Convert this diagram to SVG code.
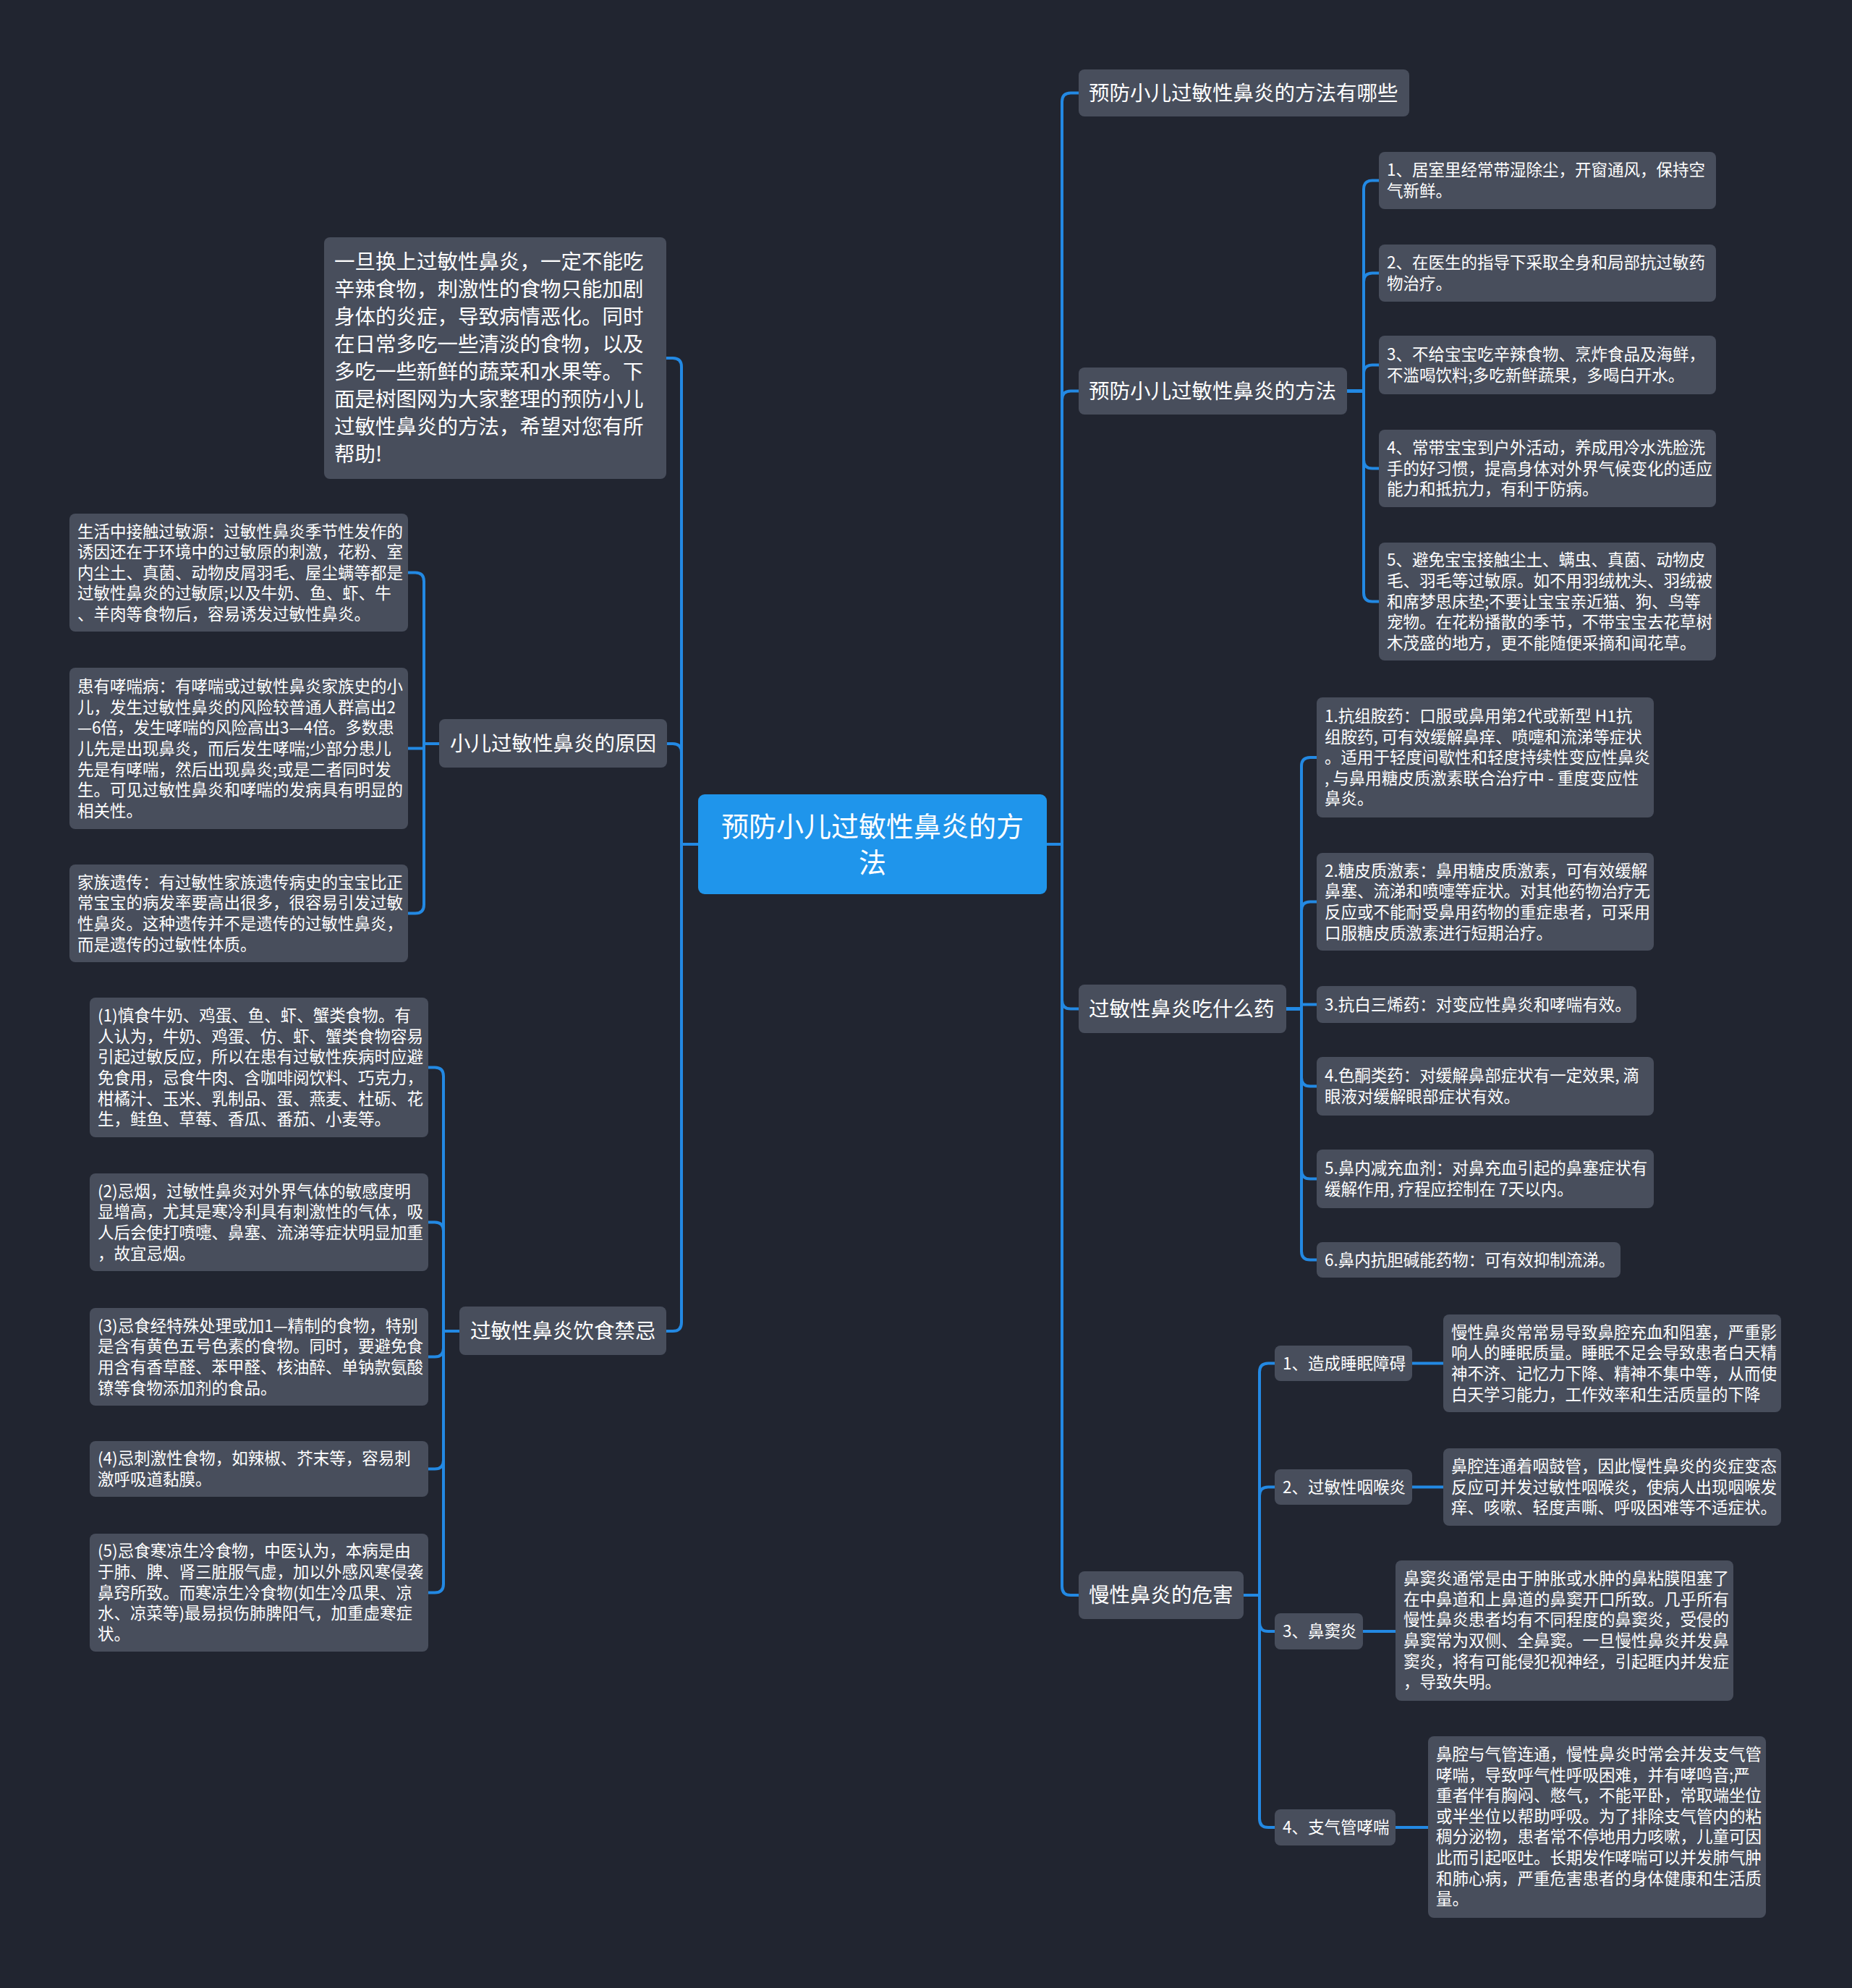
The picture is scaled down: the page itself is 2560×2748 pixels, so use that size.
<svg xmlns="http://www.w3.org/2000/svg" width="2560" height="2748" viewBox="0 0 2560 2748">
<style>
.bg{fill:#212530}
.box{fill:#484e5c}
.root{fill:#1f95eb}
.c path{fill:none;stroke:#2389e3;stroke-width:4;stroke-linejoin:round;stroke-linecap:round}
text{font-family:"Noto Sans CJK SC","Noto Sans",sans-serif;fill:#ffffff}
.s{font-size:22.5px}
.m{font-size:28.5px}
.l{font-size:38px}
</style>
<rect class="bg" x="0" y="0" width="2560" height="2748"/>
<g class="c" id="connectors">
<path d="M1447 1167H1468V140.5Q1468 128.5 1480 128.5H1491"/>
<path d="M1447 1167H1468V552.5Q1468 540.5 1480 540.5H1491"/>
<path d="M1447 1167H1468V1382.5Q1468 1394.5 1480 1394.5H1491"/>
<path d="M1447 1167H1468V2193Q1468 2205 1480 2205H1491"/>
<path d="M965 1167H942V507Q942 495 930 495H921"/>
<path d="M965 1167H942V1040Q942 1028 930 1028H921"/>
<path d="M965 1167H942V1828Q942 1840 930 1840H921"/>
<path d="M607 1028H586V803.5Q586 791.5 574 791.5H564"/>
<path d="M607 1028H586V1034.5H564"/>
<path d="M607 1028H586V1250.5Q586 1262.5 574 1262.5H564"/>
<path d="M635 1840H613V1487.5Q613 1475.5 601 1475.5H592"/>
<path d="M635 1840H613V1701.5Q613 1689.5 601 1689.5H592"/>
<path d="M635 1840H613V1863.5Q613 1875.5 601 1875.5H592"/>
<path d="M635 1840H613V2018.5Q613 2030.5 601 2030.5H592"/>
<path d="M635 1840H613V2189.5Q613 2201.5 601 2201.5H592"/>
<path d="M1862 540.5H1885V261.5Q1885 249.5 1897 249.5H1906"/>
<path d="M1862 540.5H1885V389.5Q1885 377.5 1897 377.5H1906"/>
<path d="M1862 540.5H1885V516.5Q1885 504.5 1897 504.5H1906"/>
<path d="M1862 540.5H1885V635.5Q1885 647.5 1897 647.5H1906"/>
<path d="M1862 540.5H1885V819.5Q1885 831.5 1897 831.5H1906"/>
<path d="M1778 1394.5H1799V1059Q1799 1047 1811 1047H1820"/>
<path d="M1778 1394.5H1799V1258.5Q1799 1246.5 1811 1246.5H1820"/>
<path d="M1778 1394.5H1799V1388.5H1820"/>
<path d="M1778 1394.5H1799V1489.5Q1799 1501.5 1811 1501.5H1820"/>
<path d="M1778 1394.5H1799V1617.5Q1799 1629.5 1811 1629.5H1820"/>
<path d="M1778 1394.5H1799V1729.5Q1799 1741.5 1811 1741.5H1820"/>
<path d="M1719 2205H1741V1896.5Q1741 1884.5 1753 1884.5H1762"/>
<path d="M1719 2205H1741V2067.5Q1741 2055.5 1753 2055.5H1762"/>
<path d="M1719 2205H1741V2243Q1741 2255 1753 2255H1762"/>
<path d="M1719 2205H1741V2514Q1741 2526 1753 2526H1762"/>
<path d="M1952 1884.5H1995"/>
<path d="M1952 2055.5H1995"/>
<path d="M1884 2255H1929"/>
<path d="M1929 2526H1974"/>
</g>
<g id="root">
<rect class="root" x="965" y="1098" width="482" height="138" rx="9"/>
<text class="l" text-anchor="middle"><tspan x="1206" y="1156">预防小儿过敏性鼻炎的方</tspan><tspan x="1206" y="1206">法</tspan></text>
</g>
<g id="n1"><rect class="box" x="1491" y="96" width="457" height="65" rx="8"/><text class="m" x="1505" y="139">预防小儿过敏性鼻炎的方法有哪些</text></g>
<g id="n2"><rect class="box" x="1491" y="508" width="371" height="65" rx="8"/><text class="m" x="1505" y="551">预防小儿过敏性鼻炎的方法</text></g>
<g id="n3"><rect class="box" x="1491" y="1361" width="287" height="67" rx="8"/><text class="m" x="1505" y="1405">过敏性鼻炎吃什么药</text></g>
<g id="n4"><rect class="box" x="1491" y="2172" width="228" height="66" rx="8"/><text class="m" x="1505" y="2215">慢性鼻炎的危害</text></g>
<g id="n5"><rect class="box" x="448" y="328" width="473" height="334" rx="8"/>
<text class="m"><tspan x="462" y="372">一旦换上过敏性鼻炎，一定不能吃</tspan><tspan x="462" y="410">辛辣食物，刺激性的食物只能加剧</tspan><tspan x="462" y="448">身体的炎症，导致病情恶化。同时</tspan><tspan x="462" y="486">在日常多吃一些清淡的食物，以及</tspan><tspan x="462" y="524">多吃一些新鲜的蔬菜和水果等。下</tspan><tspan x="462" y="562">面是树图网为大家整理的预防小儿</tspan><tspan x="462" y="600">过敏性鼻炎的方法，希望对您有所</tspan><tspan x="462" y="638">帮助!</tspan></text></g>
<g id="n6"><rect class="box" x="607" y="994" width="315" height="67" rx="8"/><text class="m" x="622" y="1038">小儿过敏性鼻炎的原因</text></g>
<g id="n7"><rect class="box" x="635" y="1806" width="286" height="67" rx="8"/><text class="m" x="650" y="1850">过敏性鼻炎饮食禁忌</text></g>
<g id="c1"><rect class="box" x="96" y="710" width="468" height="163" rx="8"/>
<text class="s"><tspan x="107" y="742.6">生活中接触过敏源：过敏性鼻炎季节性发作的</tspan><tspan x="107" y="771.2">诱因还在于环境中的过敏原的刺激，花粉、室</tspan><tspan x="107" y="799.8">内尘土、真菌、动物皮屑羽毛、屋尘螨等都是</tspan><tspan x="107" y="828.4">过敏性鼻炎的过敏原;以及牛奶、鱼、虾、牛</tspan><tspan x="107" y="857">、羊肉等食物后，容易诱发过敏性鼻炎。</tspan></text></g>
<g id="c2"><rect class="box" x="96" y="923" width="468" height="223" rx="8"/>
<text class="s"><tspan x="107" y="957.1">患有哮喘病：有哮喘或过敏性鼻炎家族史的小</tspan><tspan x="107" y="985.7">儿，发生过敏性鼻炎的风险较普通人群高出2</tspan><tspan x="107" y="1014.3">—6倍，发生哮喘的风险高出3—4倍。多数患</tspan><tspan x="107" y="1042.9">儿先是出现鼻炎，而后发生哮喘;少部分患儿</tspan><tspan x="107" y="1071.5">先是有哮喘，然后出现鼻炎;或是二者同时发</tspan><tspan x="107" y="1100.1">生。可见过敏性鼻炎和哮喘的发病具有明显的</tspan><tspan x="107" y="1128.7">相关性。</tspan></text></g>
<g id="c3"><rect class="box" x="96" y="1195" width="468" height="135" rx="8"/>
<text class="s"><tspan x="107" y="1227.8">家族遗传：有过敏性家族遗传病史的宝宝比正</tspan><tspan x="107" y="1256.4">常宝宝的病发率要高出很多，很容易引发过敏</tspan><tspan x="107" y="1285">性鼻炎。这种遗传并不是遗传的过敏性鼻炎，</tspan><tspan x="107" y="1313.6">而是遗传的过敏性体质。</tspan></text></g>
<g id="d1"><rect class="box" x="124" y="1379" width="468" height="193" rx="8"/>
<text class="s"><tspan x="135" y="1412.1">(1)慎食牛奶、鸡蛋、鱼、虾、蟹类食物。有</tspan><tspan x="135" y="1440.7">人认为，牛奶、鸡蛋、仿、虾、蟹类食物容易</tspan><tspan x="135" y="1469.3">引起过敏反应，所以在患有过敏性疾病时应避</tspan><tspan x="135" y="1497.9">免食用，忌食牛肉、含咖啡阅饮料、巧克力，</tspan><tspan x="135" y="1526.5">柑橘汁、玉米、乳制品、蛋、燕麦、杜砺、花</tspan><tspan x="135" y="1555.1">生，鲑鱼、草莓、香瓜、番茄、小麦等。</tspan></text></g>
<g id="d2"><rect class="box" x="124" y="1622" width="468" height="135" rx="8"/>
<text class="s"><tspan x="135" y="1654.7">(2)忌烟，过敏性鼻炎对外界气体的敏感度明</tspan><tspan x="135" y="1683.3">显增高，尤其是寒冷利具有刺激性的气体，吸</tspan><tspan x="135" y="1711.9">人后会使打喷嚏、鼻塞、流涕等症状明显加重</tspan><tspan x="135" y="1740.5">，故宜忌烟。</tspan></text></g>
<g id="d3"><rect class="box" x="124" y="1808" width="468" height="135" rx="8"/>
<text class="s"><tspan x="135" y="1840.7">(3)忌食经特殊处理或加1—精制的食物，特别</tspan><tspan x="135" y="1869.3">是含有黄色五号色素的食物。同时，要避免食</tspan><tspan x="135" y="1897.9">用含有香草醛、苯甲醛、核油醉、单钠款氨酸</tspan><tspan x="135" y="1926.5">镣等食物添加剂的食品。</tspan></text></g>
<g id="d4"><rect class="box" x="124" y="1992" width="468" height="77" rx="8"/>
<text class="s"><tspan x="135" y="2024.3">(4)忌刺激性食物，如辣椒、芥末等，容易刺</tspan><tspan x="135" y="2052.9">激呼吸道黏膜。</tspan></text></g>
<g id="d5"><rect class="box" x="124" y="2120" width="468" height="163" rx="8"/>
<text class="s"><tspan x="135" y="2152.4">(5)忌食寒凉生冷食物，中医认为，本病是由</tspan><tspan x="135" y="2181">于肺、脾、肾三脏服气虚，加以外感风寒侵袭</tspan><tspan x="135" y="2209.6">鼻窍所致。而寒凉生冷食物(如生冷瓜果、凉</tspan><tspan x="135" y="2238.2">水、凉菜等)最易损伤肺脾阳气，加重虚寒症</tspan><tspan x="135" y="2266.8">状。</tspan></text></g>
<g id="p1"><rect class="box" x="1906" y="210" width="466" height="79" rx="8"/>
<text class="s"><tspan x="1917" y="243.3">1、居室里经常带湿除尘，开窗通风，保持空</tspan><tspan x="1917" y="271.9">气新鲜。</tspan></text></g>
<g id="p2"><rect class="box" x="1906" y="338" width="466" height="79" rx="8"/>
<text class="s"><tspan x="1917" y="371.3">2、在医生的指导下采取全身和局部抗过敏药</tspan><tspan x="1917" y="399.9">物治疗。</tspan></text></g>
<g id="p3"><rect class="box" x="1906" y="464" width="466" height="81" rx="8"/>
<text class="s"><tspan x="1917" y="498.3">3、不给宝宝吃辛辣食物、烹炸食品及海鲜，</tspan><tspan x="1917" y="526.9">不滥喝饮料;多吃新鲜蔬果，多喝白开水。</tspan></text></g>
<g id="p4"><rect class="box" x="1906" y="594" width="466" height="107" rx="8"/>
<text class="s"><tspan x="1917" y="627">4、常带宝宝到户外活动，养成用冷水洗脸洗</tspan><tspan x="1917" y="655.6">手的好习惯，提高身体对外界气候变化的适应</tspan><tspan x="1917" y="684.2">能力和抵抗力，有利于防病。</tspan></text></g>
<g id="p5"><rect class="box" x="1906" y="750" width="466" height="163" rx="8"/>
<text class="s"><tspan x="1917" y="782.4">5、避免宝宝接触尘土、螨虫、真菌、动物皮</tspan><tspan x="1917" y="811">毛、羽毛等过敏原。如不用羽绒枕头、羽绒被</tspan><tspan x="1917" y="839.6">和席梦思床垫;不要让宝宝亲近猫、狗、鸟等</tspan><tspan x="1917" y="868.2">宠物。在花粉播散的季节，不带宝宝去花草树</tspan><tspan x="1917" y="896.8">木茂盛的地方，更不能随便采摘和闻花草。</tspan></text></g>
<g id="m1"><rect class="box" x="1820" y="964" width="466" height="166" rx="8"/>
<text class="s"><tspan x="1831" y="997.9">1.抗组胺药：口服或鼻用第2代或新型 H1抗</tspan><tspan x="1831" y="1026.5">组胺药, 可有效缓解鼻痒、喷嚏和流涕等症状</tspan><tspan x="1831" y="1055.1">。适用于轻度间歇性和轻度持续性变应性鼻炎</tspan><tspan x="1831" y="1083.7">, 与鼻用糖皮质激素联合治疗中 - 重度变应性</tspan><tspan x="1831" y="1112.3">鼻炎。</tspan></text></g>
<g id="m2"><rect class="box" x="1820" y="1179" width="466" height="135" rx="8"/>
<text class="s"><tspan x="1831" y="1211.7">2.糖皮质激素：鼻用糖皮质激素，可有效缓解</tspan><tspan x="1831" y="1240.3">鼻塞、流涕和喷嚏等症状。对其他药物治疗无</tspan><tspan x="1831" y="1268.9">反应或不能耐受鼻用药物的重症患者，可采用</tspan><tspan x="1831" y="1297.5">口服糖皮质激素进行短期治疗。</tspan></text></g>
<g id="m3"><rect class="box" x="1820" y="1363" width="442" height="51" rx="8"/>
<text class="s" x="1831" y="1396.6">3.抗白三烯药：对变应性鼻炎和哮喘有效。</text></g>
<g id="m4"><rect class="box" x="1820" y="1461" width="466" height="81" rx="8"/>
<text class="s"><tspan x="1831" y="1495.3">4.色酮类药：对缓解鼻部症状有一定效果, 滴</tspan><tspan x="1831" y="1523.9">眼液对缓解眼部症状有效。</tspan></text></g>
<g id="m5"><rect class="box" x="1820" y="1589" width="466" height="81" rx="8"/>
<text class="s"><tspan x="1831" y="1623.3">5.鼻内减充血剂：对鼻充血引起的鼻塞症状有</tspan><tspan x="1831" y="1651.9">缓解作用, 疗程应控制在 7天以内。</tspan></text></g>
<g id="m6"><rect class="box" x="1820" y="1717" width="420" height="49" rx="8"/>
<text class="s" x="1831" y="1749.6">6.鼻内抗胆碱能药物：可有效抑制流涕。</text></g>
<g id="h1"><rect class="box" x="1762" y="1860" width="190" height="49" rx="8"/><text class="s" x="1773" y="1892.6">1、造成睡眠障碍</text></g>
<g id="h2"><rect class="box" x="1762" y="2031" width="190" height="49" rx="8"/><text class="s" x="1773" y="2063.6">2、过敏性咽喉炎</text></g>
<g id="h3"><rect class="box" x="1762" y="2230" width="122" height="50" rx="8"/><text class="s" x="1773" y="2263.1">3、鼻窦炎</text></g>
<g id="h4"><rect class="box" x="1762" y="2501" width="167" height="50" rx="8"/><text class="s" x="1773" y="2534.1">4、支气管哮喘</text></g>
<g id="hd1"><rect class="box" x="1995" y="1817" width="467" height="135" rx="8"/>
<text class="s"><tspan x="2006" y="1849.7">慢性鼻炎常常易导致鼻腔充血和阻塞，严重影</tspan><tspan x="2006" y="1878.3">响人的睡眠质量。睡眠不足会导致患者白天精</tspan><tspan x="2006" y="1906.9">神不济、记忆力下降、精神不集中等，从而使</tspan><tspan x="2006" y="1935.5">白天学习能力，工作效率和生活质量的下降</tspan></text></g>
<g id="hd2"><rect class="box" x="1995" y="2002" width="467" height="107" rx="8"/>
<text class="s"><tspan x="2006" y="2035">鼻腔连通着咽鼓管，因此慢性鼻炎的炎症变态</tspan><tspan x="2006" y="2063.6">反应可并发过敏性咽喉炎，使病人出现咽喉发</tspan><tspan x="2006" y="2092.2">痒、咳嗽、轻度声嘶、呼吸困难等不适症状。</tspan></text></g>
<g id="hd3"><rect class="box" x="1929" y="2157" width="467" height="194" rx="8"/>
<text class="s"><tspan x="1940" y="2190.1">鼻窦炎通常是由于肿胀或水肿的鼻粘膜阻塞了</tspan><tspan x="1940" y="2218.7">在中鼻道和上鼻道的鼻窦开口所致。几乎所有</tspan><tspan x="1940" y="2247.3">慢性鼻炎患者均有不同程度的鼻窦炎，受侵的</tspan><tspan x="1940" y="2275.9">鼻窦常为双侧、全鼻窦。一旦慢性鼻炎并发鼻</tspan><tspan x="1940" y="2304.5">窦炎，将有可能侵犯视神经，引起眶内并发症</tspan><tspan x="1940" y="2333.1">，导致失明。</tspan></text></g>
<g id="hd4"><rect class="box" x="1974" y="2400" width="467" height="251" rx="8"/>
<text class="s"><tspan x="1985" y="2433">鼻腔与气管连通，慢性鼻炎时常会并发支气管</tspan><tspan x="1985" y="2461.6">哮喘，导致呼气性呼吸困难，并有哮鸣音;严</tspan><tspan x="1985" y="2490.2">重者伴有胸闷、憋气，不能平卧，常取端坐位</tspan><tspan x="1985" y="2518.8">或半坐位以帮助呼吸。为了排除支气管内的粘</tspan><tspan x="1985" y="2547.4">稠分泌物，患者常不停地用力咳嗽，儿童可因</tspan><tspan x="1985" y="2576">此而引起呕吐。长期发作哮喘可以并发肺气肿</tspan><tspan x="1985" y="2604.6">和肺心病，严重危害患者的身体健康和生活质</tspan><tspan x="1985" y="2633.2">量。</tspan></text></g>
</svg>
